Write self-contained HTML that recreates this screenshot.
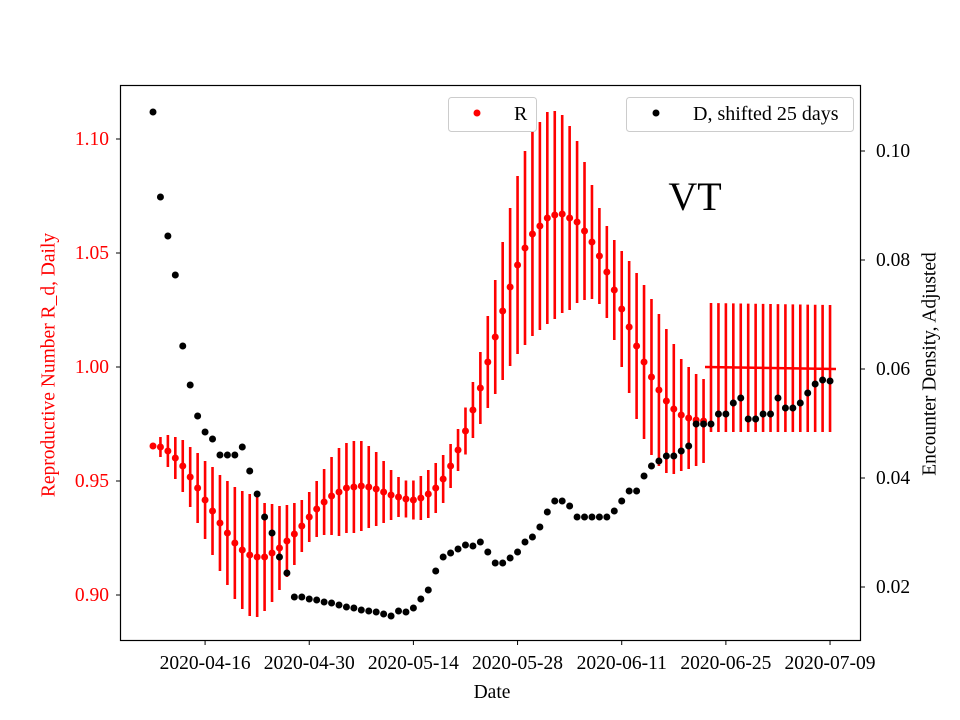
<!DOCTYPE html>
<html><head><meta charset="utf-8"><style>
body{margin:0;background:#fff}
svg{display:block;font-family:"Liberation Serif",serif}
</style></head><body>
<svg id="s" width="960" height="720" xmlns="http://www.w3.org/2000/svg">
<rect x="0" y="0" width="960" height="720" fill="#fff"/>
<g id="bars"></g><g id="dots"></g>
<line x1="705" y1="367" x2="836" y2="369" stroke="#f00" stroke-width="2.5"/>
<rect x="120.5" y="85.5" width="740" height="555" fill="none" stroke="#000" stroke-width="1.2"/>
<g id="ticks" font-size="19.5"></g>
<text x="50" y="365" font-size="19.5" fill="#f00" text-anchor="middle" transform="rotate(-90 50 365)" dominant-baseline="middle">Reproductive Number R_d, Daily</text>
<text x="931" y="364" font-size="19.5" fill="#000" text-anchor="middle" transform="rotate(-90 931 364)" dominant-baseline="middle">Encounter Density, Adjusted</text>
<text x="492" y="698" font-size="19.5" text-anchor="middle">Date</text>
<text x="695" y="210" font-size="40" text-anchor="middle">VT</text>
<rect x="448.5" y="97.5" width="88" height="34" rx="3" fill="#fff" stroke="#ccc" stroke-width="1"/>
<circle cx="477" cy="113" r="3.5" fill="#f00"/>
<text x="514" y="120" font-size="20">R</text>
<rect x="626.5" y="97.5" width="227" height="34" rx="3" fill="#fff" stroke="#ccc" stroke-width="1"/>
<circle cx="656" cy="113" r="3.5" fill="#000"/>
<text x="693" y="120" font-size="20">D, shifted 25 days</text>
</svg>
<script>
var NS="http://www.w3.org/2000/svg";
function el(p,t,a){var e=document.createElementNS(NS,t);for(var k in a)e.setAttribute(k,a[k]);document.getElementById(p).appendChild(e);return e;}
var ry=[446,447,451,458,466,477,488,500,511,523,533,543,550,555,557,557,553,548,541,534,526,517,509,502,496,492,488,487,486,487,489,492,495,497,499,500,498,494,488,479,466,450,431,410,388,362,337,311,287,265,248,234,226,218,215,214,218,222,231,242,256,272,290,309,327,346,362,377,390,401,409,415,418,420,421];
var rh=[3,10,16,21,26,30,35,39,44,48,52,56,59,61,60,54,49,42,36,31,26,25,28,33,39,44,45,46,45,41,37,31,25,20,18.5,19.5,22,24,25,24,22,21,23.5,28,36,46,57,69,79,89,97,102,104,106,104,99,92,81,69,57,48,46,50,58,66,73,77,78,76,72,65,56,51,46,42];
var by=[112,197,236,275,346,385,416,432,439,455,455,455,447,471,494,517,533,557,573,597,597,599,600,602,603,605,607,608,610,611,612,614,616,611,612,608,599,590,571,557,553,549,545,546,542,552,563,563,558,552,542,537,527,512,501,501,506,517,517,517,517,517,511,501,491,491,476,466,461,456,456,451,446,424,424,424,414,414,403,398,419,419,414,414,398,408,408,403,393,384,380,381];
function X(i){return 153+7.44*i;}
for(var i=0;i<ry.length;i++){
 el("bars","line",{x1:X(i),x2:X(i),y1:ry[i]-rh[i],y2:ry[i]+rh[i],stroke:"#f00","stroke-width":2.6});
 el("dots","circle",{cx:X(i),cy:ry[i],r:3.5,fill:"#f00"});
}
for(var i=75;i<92;i++){var t=303+2*(i-75)/16;el("bars","line",{x1:X(i),x2:X(i),y1:t,y2:432,stroke:"#f00","stroke-width":2.6});}
for(var i=0;i<by.length;i++)el("dots","circle",{cx:X(i),cy:by[i],r:3.5,fill:"#000"});
var L=[["0.90",595],["0.95",481],["1.00",367],["1.05",253],["1.10",139]];
L.forEach(function(a){el("ticks","line",{x1:116,x2:120,y1:a[1],y2:a[1],stroke:"#000"});var t=el("ticks","text",{x:109,y:a[1]+6,"text-anchor":"end",fill:"#f00"});t.textContent=a[0];});
var R=[["0.02",587],["0.04",478],["0.06",369],["0.08",260],["0.10",151]];
R.forEach(function(a){el("ticks","line",{x1:861,x2:865,y1:a[1],y2:a[1],stroke:"#000"});var t=el("ticks","text",{x:876,y:a[1]+6});t.textContent=a[0];});
var D=["2020-04-16","2020-04-30","2020-05-14","2020-05-28","2020-06-11","2020-06-25","2020-07-09"];
D.forEach(function(d,k){var x=X(7+14*k);el("ticks","line",{x1:x,x2:x,y1:641,y2:645,stroke:"#000"});var t=el("ticks","text",{x:x,y:669,"text-anchor":"middle"});t.textContent=d;});
</script>
</body></html>
